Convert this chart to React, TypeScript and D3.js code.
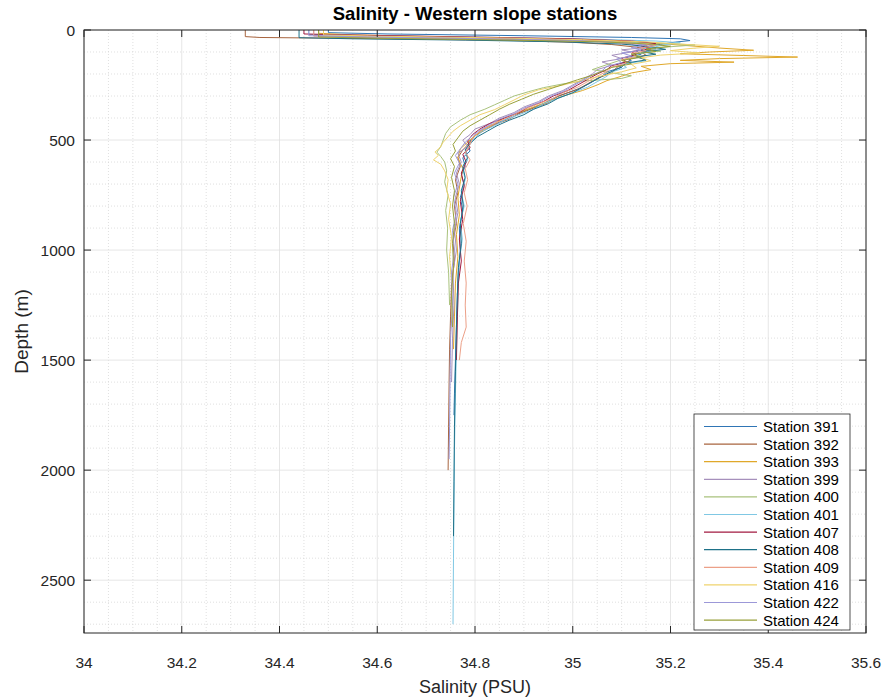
import React from "react";
import * as d3 from "d3";

const stationNames = ["Station 391","Station 392","Station 393","Station 399","Station 400","Station 401","Station 407","Station 408","Station 409","Station 416","Station 422","Station 424"];
const stationColors = ["#2f75b5","#a8653f","#e0a82a","#a690bc","#a9c27c","#80c8e4","#a21a40","#1e7188","#eca088","#efd36e","#9c98d8","#98a03a"];

const xTicks = [34, 34.2, 34.4, 34.6, 34.8, 35, 35.2, 35.4, 35.6];
const yTicks = [0, 500, 1000, 1500, 2000, 2500];

const s391 = [[0,34.50],[12,34.50],[18,34.62],[26,34.90],[34,35.12],[40,35.22],[48,35.24],[55,35.21],[65,35.18],[75,35.15],[85,35.17],[95,35.13],[110,35.14],[125,35.11],[140,35.12],[155,35.09],[170,35.10],[190,35.07],[210,35.06],[235,35.04],[260,35.02],[285,34.99],[310,34.96],[335,34.94],[360,34.91],[385,34.88],[410,34.86],[435,34.83],[460,34.81],[490,34.795],[520,34.785],[550,34.79],[580,34.775],[620,34.78],[660,34.772],[700,34.778],[760,34.77],[820,34.775],[900,34.768],[1000,34.77],[1100,34.766],[1200,34.764],[1350,34.762],[1500,34.76],[1650,34.758],[1750,34.757]];
const s392 = [[0,34.33],[30,34.33],[34,34.36],[37,34.50],[42,34.70],[48,34.88],[56,35.00],[66,35.08],[78,35.13],[90,35.16],[100,35.14],[115,35.15],[130,35.12],[150,35.11],[170,35.09],[195,35.08],[220,35.05],[245,35.03],[270,35.01],[300,34.97],[330,34.95],[355,34.92],[380,34.89],[405,34.87],[430,34.84],[455,34.82],[480,34.80],[510,34.79],[545,34.775],[580,34.765],[620,34.77],[680,34.76],[740,34.765],[800,34.758],[880,34.762],[960,34.755],[1050,34.758],[1150,34.752],[1300,34.75],[1450,34.748],[1600,34.747],[1800,34.746],[2000,34.745]];
const s393 = [[0,34.48],[15,34.48],[22,34.55],[32,34.75],[42,34.95],[52,35.10],[62,35.18],[72,35.24],[82,35.30],[92,35.37],[100,35.28],[108,35.22],[116,35.35],[123,35.46],[130,35.30],[138,35.22],[146,35.33],[153,35.20],[165,35.14],[180,35.16],[195,35.12],[210,35.10],[230,35.07],[250,35.05],[275,35.02],[300,34.98],[325,34.95],[350,34.92],[375,34.89],[400,34.86],[425,34.84],[450,34.82],[480,34.80],[510,34.785],[540,34.77],[580,34.765],[630,34.775],[690,34.77],[760,34.765],[840,34.768],[930,34.762],[1030,34.765],[1150,34.76],[1300,34.758],[1450,34.756]];
const s399 = [[0,34.47],[25,34.47],[30,34.55],[38,34.80],[45,34.98],[55,35.08],[65,35.12],[80,35.15],[90,35.10],[100,35.12],[115,35.08],[130,35.10],[145,35.06],[160,35.08],[180,35.05],[200,35.04],[225,35.02],[250,35.00],[275,34.98],[300,34.95],[325,34.93],[350,34.90],[375,34.88],[400,34.85],[425,34.83],[450,34.80],[475,34.79],[500,34.775],[530,34.785],[560,34.765],[600,34.772],[650,34.762],[700,34.768],[760,34.76],[830,34.765],[910,34.758],[1000,34.762],[1100,34.755],[1250,34.757],[1400,34.754],[1600,34.752]];
const s400 = [[0,34.48],[30,34.48],[36,34.60],[44,34.85],[52,35.05],[60,35.18],[68,35.25],[76,35.20],[86,35.15],[96,35.18],[108,35.12],[120,35.14],[135,35.10],[150,35.08],[165,35.06],[180,35.04],[195,35.08],[208,35.12],[220,35.10],[232,35.02],[245,34.98],[262,34.94],[280,34.91],[300,34.88],[320,34.86],[340,34.84],[360,34.82],[385,34.79],[410,34.77],[440,34.75],[470,34.74],[500,34.735],[530,34.73],[555,34.722],[575,34.73],[600,34.738],[640,34.742],[690,34.738],[750,34.745],[820,34.74],[900,34.744],[1000,34.742],[1100,34.746],[1250,34.748]];
const s401 = [[0,34.46],[20,34.46],[26,34.60],[34,34.85],[42,35.05],[50,35.17],[58,35.22],[66,35.19],[76,35.17],[88,35.14],[100,35.16],[112,35.12],[125,35.14],[140,35.15],[155,35.10],[170,35.11],[190,35.08],[210,35.07],[235,35.05],[260,35.03],[285,35.00],[310,34.97],[335,34.94],[360,34.92],[385,34.89],[410,34.86],[435,34.84],[460,34.815],[490,34.80],[520,34.79],[550,34.78],[590,34.785],[630,34.775],[680,34.78],[740,34.772],[800,34.778],[870,34.77],[950,34.774],[1050,34.768],[1150,34.766],[1300,34.764],[1450,34.762],[1650,34.76],[1900,34.758],[2150,34.757],[2400,34.756],[2700,34.755]];
const s407 = [[0,34.45],[18,34.45],[24,34.58],[32,34.80],[40,35.00],[50,35.12],[60,35.17],[72,35.14],[85,35.16],[98,35.12],[112,35.13],[128,35.10],[145,35.11],[162,35.08],[180,35.07],[200,35.05],[225,35.03],[250,35.01],[275,34.99],[300,34.96],[325,34.94],[350,34.91],[375,34.89],[400,34.86],[425,34.83],[450,34.81],[475,34.795],[505,34.785],[535,34.79],[565,34.775],[600,34.782],[650,34.772],[710,34.778],[780,34.77],[860,34.775],[950,34.768],[1050,34.772],[1150,34.766],[1300,34.764],[1500,34.762]];
const s408 = [[0,34.44],[35,34.44],[40,34.55],[46,34.78],[54,34.98],[64,35.10],[76,35.16],[88,35.19],[98,35.14],[110,35.17],[122,35.13],[136,35.15],[150,35.11],[168,35.10],[188,35.08],[210,35.06],[235,35.04],[260,35.02],[285,35.00],[310,34.97],[335,34.95],[360,34.92],[385,34.90],[410,34.87],[435,34.845],[460,34.825],[485,34.805],[515,34.79],[545,34.78],[580,34.785],[620,34.775],[670,34.78],[730,34.772],[800,34.776],[880,34.77],[970,34.772],[1080,34.766],[1200,34.764],[1350,34.762],[1550,34.76],[1800,34.758],[2050,34.757],[2300,34.756]];
const s409 = [[0,34.47],[28,34.47],[34,34.60],[42,34.85],[50,35.02],[60,35.12],[70,35.17],[82,35.14],[94,35.15],[106,35.12],[120,35.13],[135,35.10],[150,35.11],[168,35.08],[188,35.07],[210,35.05],[235,35.03],[260,35.01],[285,34.98],[310,34.96],[335,34.93],[360,34.90],[385,34.88],[410,34.855],[435,34.83],[460,34.81],[490,34.795],[520,34.79],[555,34.78],[590,34.79],[630,34.78],[680,34.785],[740,34.778],[800,34.784],[880,34.776],[960,34.782],[1050,34.778],[1150,34.782],[1250,34.78],[1350,34.782],[1420,34.772],[1500,34.768]];
const s416 = [[0,34.49],[22,34.49],[28,34.60],[36,34.85],[44,35.02],[54,35.15],[64,35.22],[74,35.30],[84,35.24],[94,35.20],[104,35.26],[114,35.18],[126,35.14],[140,35.16],[156,35.12],[172,35.13],[190,35.10],[208,35.06],[228,35.02],[250,34.98],[272,34.93],[295,34.90],[318,34.88],[340,34.86],[362,34.84],[385,34.81],[410,34.79],[435,34.77],[460,34.755],[485,34.745],[510,34.735],[535,34.728],[555,34.718],[570,34.725],[590,34.715],[610,34.73],[640,34.738],[680,34.745],[730,34.742],[790,34.75],[860,34.746],[940,34.752],[1030,34.748],[1150,34.752]];
const s422 = [[0,34.46],[26,34.46],[32,34.58],[40,34.82],[48,35.00],[58,35.10],[68,35.15],[80,35.12],[92,35.14],[104,35.10],[118,35.12],[132,35.09],[148,35.10],[165,35.07],[185,35.06],[205,35.04],[230,35.02],[255,35.00],[280,34.98],[305,34.95],[330,34.93],[355,34.90],[380,34.88],[405,34.85],[430,34.83],[455,34.81],[480,34.795],[510,34.78],[540,34.77],[570,34.76],[605,34.768],[650,34.758],[700,34.765],[760,34.756],[830,34.762],[910,34.754],[1000,34.758],[1100,34.752],[1250,34.754],[1400,34.75],[1600,34.749],[1800,34.748],[1950,34.747]];
const s424 = [[0,34.48],[32,34.48],[38,34.62],[46,34.88],[54,35.06],[64,35.16],[74,35.20],[86,35.15],[98,35.17],[110,35.12],[124,35.14],[138,35.10],[154,35.12],[170,35.08],[188,35.06],[206,35.04],[226,35.01],[248,34.98],[270,34.95],[292,34.92],[315,34.895],[338,34.87],[360,34.85],[385,34.83],[410,34.81],[435,34.79],[460,34.775],[490,34.765],[520,34.755],[550,34.76],[585,34.75],[620,34.758],[670,34.752],[730,34.758],[800,34.754],[880,34.758],[970,34.754],[1070,34.756],[1200,34.752],[1350,34.754]];

const profiles = [s391, s392, s393, s399, s400, s401, s407, s408, s409, s416, s422, s424];

const W = 888, H = 699;
const L = 84, R = 866, T = 30, B = 633;
const FONT = "'Liberation Sans', Arial, Helvetica, sans-serif";
const AX = "#262626";

export default function App() {
  const x = d3.scaleLinear().domain([34, 35.6]).range([L, R]);
  const y = d3.scaleLinear().domain([0, 2740]).range([T, B]);
  const line = d3.line<number[]>().x(p => x(p[1])).y(p => y(p[0]));

  const xMinor = d3.range(34, 35.6001, 0.05).map(v => +v.toFixed(3)).filter(v => !xTicks.some(t => Math.abs(t - v) < 1e-6));
  const yMinor = d3.range(0, 2740, 100).filter(v => v % 500 !== 0);

  const legX = 694, legY = 414, legW = 156, legH = 216;
  const rowH = 17.6;

  return (
    <div style={{ position: "absolute", left: 0, top: 0 }}>
      <svg width={W} height={H} style={{ display: "block", background: "#fff" }}>
        <rect x={L} y={T} width={R - L} height={B - T} fill="#fff" />
        {xMinor.map((v, i) => (
          <line key={"xm" + i} x1={x(v)} x2={x(v)} y1={T} y2={B} stroke="#d2d2d2" strokeWidth={0.7} strokeDasharray="1,2" />
        ))}
        {yMinor.map((v, i) => (
          <line key={"ym" + i} x1={L} x2={R} y1={y(v)} y2={y(v)} stroke="#d2d2d2" strokeWidth={0.7} strokeDasharray="1,2" />
        ))}
        {xTicks.map((v, i) => (
          <line key={"xg" + i} x1={x(v)} x2={x(v)} y1={T} y2={B} stroke="#e0e0e0" strokeWidth={0.8} />
        ))}
        {yTicks.map((v, i) => (
          <line key={"yg" + i} x1={L} x2={R} y1={y(v)} y2={y(v)} stroke="#e0e0e0" strokeWidth={0.8} />
        ))}
        <g>
          {profiles.map((p, i) => (
            <path key={"p" + i} d={line(p) || ""} fill="none" stroke={stationColors[i]} strokeWidth={1} strokeLinejoin="round" />
          ))}
        </g>
        <rect x={L} y={T} width={R - L} height={B - T} fill="none" stroke={AX} strokeWidth={1} />
        {xTicks.map((v, i) => (
          <g key={"xt" + i}>
            <line x1={x(v)} x2={x(v)} y1={B} y2={B - 7} stroke={AX} />
            <line x1={x(v)} x2={x(v)} y1={T} y2={T + 7} stroke={AX} />
            <text x={x(v)} y={B + 35} textAnchor="middle" fontFamily={FONT} fontSize={15.5} fill={AX}>{String(v)}</text>
          </g>
        ))}
        {yTicks.map((v, i) => (
          <g key={"yt" + i}>
            <line x1={L} x2={L + 7} y1={y(v)} y2={y(v)} stroke={AX} />
            <line x1={R} x2={R - 7} y1={y(v)} y2={y(v)} stroke={AX} />
            <text x={L - 9} y={y(v) + 5.5} textAnchor="end" fontFamily={FONT} fontSize={15.5} fill={AX}>{String(v)}</text>
          </g>
        ))}
        <text x={(L + R) / 2} y={693} textAnchor="middle" fontFamily={FONT} fontSize={18} fill={AX}>Salinity (PSU)</text>
        <text transform={`translate(28, ${(T + B) / 2}) rotate(-90)`} textAnchor="middle" fontFamily={FONT} fontSize={19} fill={AX}>Depth (m)</text>
        <text x={(L + R) / 2} y={20} textAnchor="middle" fontFamily={FONT} fontSize={18.5} fontWeight="bold" fill="#000">Salinity - Western slope stations</text>
        <g>
          <rect x={legX} y={legY} width={legW} height={legH} fill="#fff" stroke={AX} strokeWidth={0.8} />
          {stationNames.map((n, i) => {
            const cy = legY + 12.5 + i * rowH;
            return (
              <g key={"lg" + i}>
                <line x1={legX + 10} x2={legX + 63} y1={cy} y2={cy} stroke={stationColors[i]} strokeWidth={1.2} />
                <text x={legX + 69} y={cy + 5.5} fontFamily={FONT} fontSize={15} fill="#000">{n}</text>
              </g>
            );
          })}
        </g>
      </svg>
    </div>
  );
}
